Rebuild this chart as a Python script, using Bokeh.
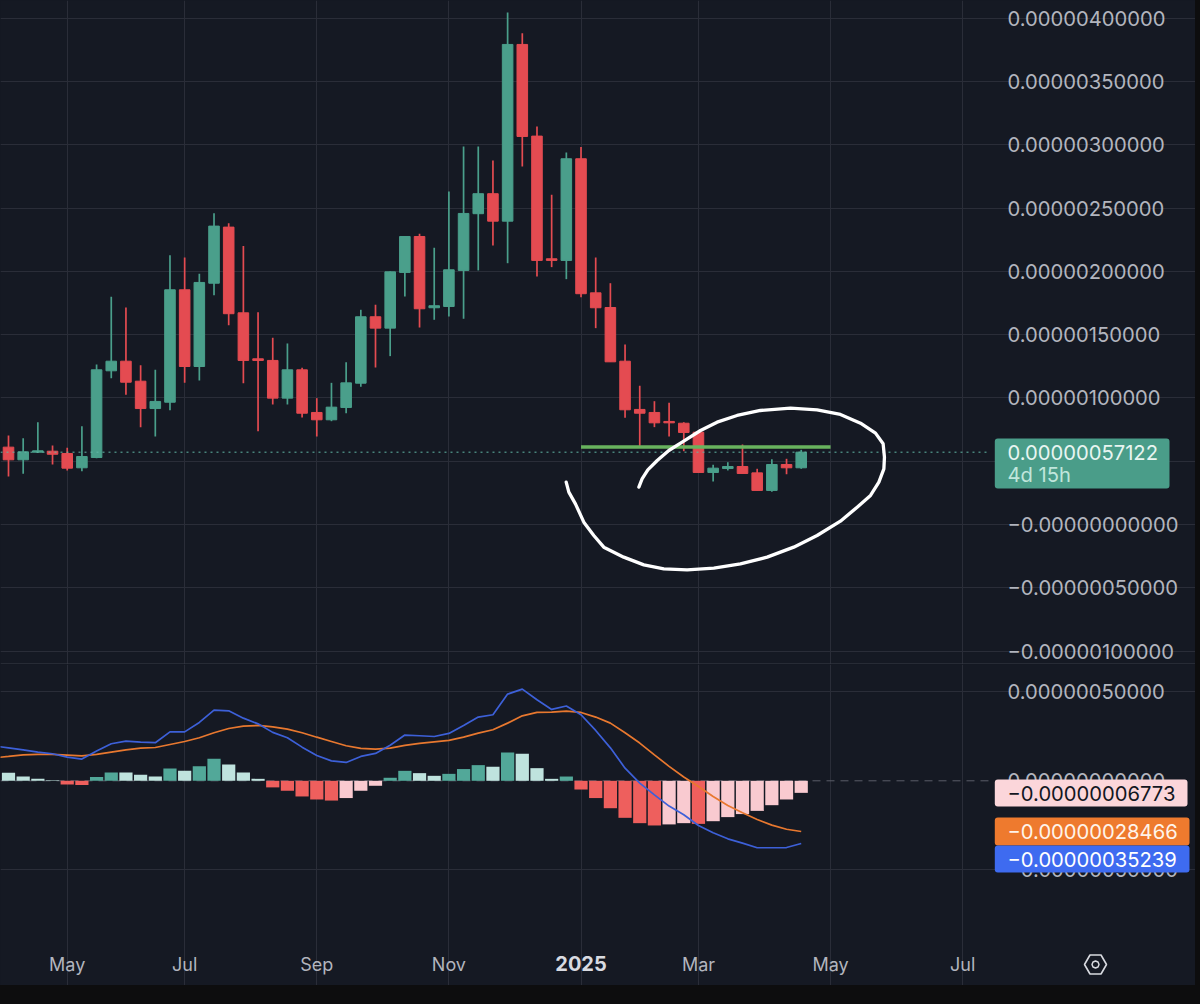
from bokeh.embed import file_html
from bokeh.layouts import column
from bokeh.models import (BoxAnnotation, FixedTicker, GlobalInlineStyleSheet, Label,
                          PolyAnnotation, Range1d)
from bokeh.plotting import figure
from bokeh.resources import INLINE

# All prices are in units of 0.00000001
opens = [61.1,51.1,57.1,57.9,56.1,44.8,52.9,121.4,129,113.2,91.6,96.6,185.4,124.8,190.6,234.9,167.2,130.9,129.6,99.8,
         122.2,88.5,82.7,92.4,111.6,164.1,155.1,199.1,227.5,171.2,172.2,200.7,245.5,261.3,239.6,379.2,306.8,209.9,208.6,288.9,
         183,171.4,129,90.9,88.5,81.4,80,72.9,41.1,44.2,45.8,40.8,26.9,47.4,44.8]
highs = [70.3,68.2,80.8,62.4,60.6,77.7,126.4,179.9,171.4,125.8,122.2,212.7,210.9,198.1,245.9,238,219.9,167.7,147.5,143,
         123.8,99.8,111.9,128.2,169.6,173.6,199.9,227.5,229.7,218.6,263.1,298.6,298.6,287.6,404.5,388.1,314.4,260.5,293.9,298.1,
         210.9,190.6,142.2,109.6,97.4,96.1,80.8,73.5,47.2,49.2,63.2,44,51.6,51.9,59]
lows = [37.9,40,56.6,47.4,42.7,42.1,52.4,115.6,102.5,76.9,69.5,90.3,111.9,113.8,181.1,157.4,111.6,73.7,94.8,94.8,
        84.5,69.5,81.6,87.9,108.8,124,133,180.1,155.6,161.7,164.3,162.5,200.7,220.4,206.4,282.8,195.9,203.3,193.8,179.6,
        155.1,128.5,84.3,60.6,76.9,69.5,57.9,41.1,34,42.7,40.3,26.9,25.8,39.7,44]
closes = [51.1,57.4,58.2,55.5,44.5,53.7,122.2,129,112.4,91.6,97.2,185.4,124.8,191.2,235.7,166.5,129.6,129.6,99.8,122.2,
          87.9,82.7,92.7,111.9,164.1,155.1,199.6,227.5,170.4,172.8,201.2,245.7,261.3,239.6,379.2,306.5,208.6,208.6,288.9,182.3,
          171.2,128.5,90.6,87.9,80.3,80.3,72.7,41.1,44.5,45.8,40.3,26.9,47.4,44.8,57.122]
hist = [4.5,2.4,1.1,0.3,-2.1,-2.4,2.1,4.7,4.7,3.4,2.4,6.9,5.6,8.2,12.4,9.2,4.7,1.1,-3.7,-5.6,
        -8.8,-10.5,-11.1,-9.7,-5.6,-2.8,1.7,5.6,4.3,2.8,3.9,6.6,8.8,7.9,15.9,15.2,7.1,1.1,2.4,-4.9,
        -9.7,-15.4,-20.8,-23.8,-25.1,-24.5,-23.8,-24.2,-22.7,-20.4,-18.7,-16.9,-13.7,-10.5,-6.773]
macd = [18.5,17.4,16.1,15.2,13.3,12.2,16.7,20.8,22.3,21.7,21.4,27.5,27.5,32.8,39.7,39.3,35.2,32,27.2,24.2,
        18.9,14.2,11.2,10.3,13.7,15.4,20,25.7,25.3,24.9,26.6,31.1,35.8,37.1,48.7,51.5,45.5,40.1,42,37.1,
        28.3,18.5,7.1,-1.3,-7.9,-14.2,-19.1,-25.1,-29.2,-32.6,-35,-37.6,-37.6,-37.5,-35.239]
signal = [13.7,14.6,14.8,14.8,14.4,14,14.8,16.1,17.4,18.4,18.7,20.4,22.1,24.2,27,29.4,30.7,31.1,30.3,29,
          27,24.5,22.1,19.7,18.2,17.8,18.4,19.9,21,21.9,22.7,24.5,26.8,28.7,32.4,36.5,38.4,38.6,39.1,38.4,
          35.8,32.4,27,21.2,14.6,8.1,2.1,-3.2,-8.8,-13.9,-18,-21.7,-24.9,-27.2,-28.466]
# The week before the first candle, which only the two lines still reach
macd_before = 19.6
signal_before = 12.9
resistance_level = 61.3
resistance_weeks = [39, 56]
last_price = 57.122

# Hand-drawn ellipse, in week index and price
stroke_weeks = [42.94,43.16,43.55,44.19,44.98,45.89,47.14,48.27,49.63,51.22,53.27,55.08,56.67,58.04,59.06,59.58,59.67,59.63,59.29,
                58.72,57.81,56.67,55.08,53.49,51.68,49.86,48.05,46.23,44.64,43.28,41.91,40.55,39.87,39.19,38.62,38.17,37.99]
stroke_prices = [29.49,36.08,43.19,50.56,58.46,65.04,74.26,80.84,86.11,90.06,91.9,90.59,86.9,80.05,72.16,63.73,53.19,43.98,33.45,
                 22.91,13.7,2.64,-8.69,-17.9,-25.8,-31.07,-34.49,-35.81,-35.02,-31.86,-25.8,-17.9,-8.69,1.84,16.33,25.54,33.45]

month_ticks = [4, 12, 21, 30, 39, 47, 56, 65]
month_labels = ["May", "Jul", "Sep", "Nov", "", "Mar", "May", "Jul"]
price_ticks = [400, 350, 300, 250, 200, 150, 100, 50, 0, -50, -100]
price_tick_labels = ["0.00000400000", "0.00000350000", "0.00000300000", "0.00000250000", "0.00000200000",
                     "0.00000150000", "0.00000100000", "0.00000050000", "\u22120.00000000000",
                     "\u22120.00000050000", "\u22120.00000100000"]
macd_ticks = [50, 0, -50]
macd_tick_labels = ["0.00000050000", "0.00000000000", "\u22120.00000050000"]

BG = "#151923"
GRID = "#2a2d38"
TEXT = "#b2b5be"
GREEN = "#4a9f8b"
RED = "#e44b51"
FONT = "Inter"
LABEL_SIZE = "20.2px"

weeks = list(range(len(closes)))

# Page pixel helpers for chart furniture only
def sx(px): return (px - 8) / 14.68
def py(px): return (524 - px) * 0.7899
def my(px): return (780.3 - px) * 0.5618

PANE_RIGHT = sx(992)

def base(height, y_range):
    f = figure(width=1195, height=height, x_range=Range1d(sx(0), sx(1195)), y_range=y_range,
               y_axis_location="right", output_backend="svg", toolbar_location=None,
               background_fill_color=BG, border_fill_color=BG, outline_line_color=None,
               min_border_left=0, min_border_top=0, min_border_right=0, min_border_bottom=0)
    f.xgrid.ticker = FixedTicker(ticks=month_ticks)
    f.xgrid.grid_line_color = GRID
    f.ygrid.grid_line_color = GRID
    f.ygrid.bounds = (sx(0), PANE_RIGHT)
    ax = f.yaxis[0]
    ax.fixed_location = PANE_RIGHT
    ax.axis_line_color = None
    ax.major_tick_line_color = None
    ax.minor_tick_line_color = None
    ax.major_tick_out = 0
    ax.major_tick_in = 0
    ax.major_label_standoff = 15
    ax.major_label_text_color = TEXT
    ax.major_label_text_font = FONT
    ax.major_label_text_font_size = LABEL_SIZE
    return f

# ---- price pane
p = base(664, Range1d(py(664), py(0)))
p.xaxis.visible = False
p.yaxis[0].ticker = FixedTicker(ticks=price_ticks)
p.yaxis[0].major_label_overrides = dict(zip(price_ticks, price_tick_labels))
p.ygrid.ticker = FixedTicker(ticks=price_ticks)

colors = [GREEN if c >= o else RED for o, c in zip(opens, closes)]
p.segment(weeks, lows, weeks, highs, line_color=colors, line_width=1.7)
p.vbar(weeks, width=0.72, bottom=[min(o, c) for o, c in zip(opens, closes)],
       top=[max(o, c) for o, c in zip(opens, closes)], fill_color=colors, line_color=colors, line_width=1)
p.line([sx(0), sx(990)], [last_price] * 2, line_color="#63b8a6", line_width=1, line_dash=[2, 4])
p.line(resistance_weeks, [resistance_level] * 2, line_color="#68b35e", line_width=3.5)
p.line(stroke_weeks, stroke_prices, line_color="#ffffff", line_width=3.3, line_join="round", line_cap="round")

p.add_layout(BoxAnnotation(left=sx(994.3), right=sx(1169), top=py(438), bottom=py(488), fill_color="#4a9d89",
                           fill_alpha=1, line_color=None, border_radius=3))
p.add_layout(Label(x=sx(1007), y=py(451.5), text=f"{last_price / 1e8:.11f}", text_color="#e8f5f1", text_font=FONT,
                   text_font_size=LABEL_SIZE, text_baseline="middle"))
p.add_layout(Label(x=sx(1007), y=py(474), text="4d 15h", text_color="#c0e6dc", text_font=FONT,
                   text_font_size=LABEL_SIZE, text_baseline="middle"))
p.add_layout(BoxAnnotation(left=sx(0), right=sx(1195), top=py(663), bottom=py(664), fill_color="#3a3e49",
                           fill_alpha=1, line_color=None))

# ---- MACD pane
m = base(321, Range1d(my(985), my(664)))
m.yaxis[0].ticker = FixedTicker(ticks=macd_ticks)
m.yaxis[0].major_label_overrides = dict(zip(macd_ticks, macd_tick_labels))
m.ygrid.ticker = FixedTicker(ticks=[50, -50])
m.xgrid.bounds = (my(938), my(664))
ax = m.xaxis[0]
ax.fixed_location = my(940)
ax.ticker = FixedTicker(ticks=month_ticks)
ax.major_label_overrides = dict(zip(month_ticks, month_labels))
ax.axis_line_color = None
ax.major_tick_line_color = None
ax.minor_tick_line_color = None
ax.major_tick_in = 0
ax.major_tick_out = 0
ax.major_label_standoff = 13
ax.major_label_text_color = TEXT
ax.major_label_text_font = FONT
ax.major_label_text_font_size = "18px"

hist_colors = []
for i, h in enumerate(hist):
    stronger = i > 0 and abs(h) > abs(hist[i - 1]) or (i > 0 and h * hist[i - 1] < 0)
    if h >= 0:
        hist_colors.append("#52a899" if stronger else "#bfe3de")
    else:
        hist_colors.append("#ee5f5d" if stronger else "#f9cad0")
m.line([sx(0), PANE_RIGHT], [0, 0], line_color="#5a5d68", line_width=1, line_dash=[8, 6])
m.vbar(weeks, width=0.9, bottom=0, top=hist, fill_color=hist_colors, line_color=None)
m.line([-1] + weeks, [signal_before] + signal, line_color="#e8782f", line_width=1.7)
m.line([-1] + weeks, [macd_before] + macd, line_color="#3d60d8", line_width=1.7)

for top_px, bottom_px, right_px, fill, txt, tcol in [
    (779, 806, 1187, "#fbd6da", hist[-1], "#131722"),
    (817, 845, 1189, "#ee7a2e", signal[-1], "#fff4ea"),
    (845, 872, 1189, "#3e6bf0", macd[-1], "#ffffff"),
]:
    m.add_layout(BoxAnnotation(left=sx(994.3), right=sx(right_px), top=my(top_px), bottom=my(bottom_px),
                               fill_color=fill, fill_alpha=1, line_color=None, border_radius=3))
    m.add_layout(Label(x=sx(1007), y=my((top_px + bottom_px) / 2), text=f"\u2212{abs(txt) / 1e8:.11f}", text_color=tcol,
                       text_font=FONT, text_font_size=LABEL_SIZE, text_baseline="middle"))

m.add_layout(Label(x=39, y=my(962.5), text="2025", text_color="#d8dae0", text_font=FONT, text_font_style="bold",
                   text_font_size="20px", text_align="center", text_baseline="middle"))

# settings icon
hex_x = [1084, 1089.5, 1100.5, 1106, 1100.5, 1089.5]
hex_y = [964, 954.5, 954.5, 964, 973.5, 973.5]
m.add_layout(PolyAnnotation(xs=[sx(v) for v in hex_x], ys=[my(v) for v in hex_y], fill_alpha=0,
                            line_color="#d8dae0", line_alpha=1, line_width=1.6))
ring_x = [1098.5, 1097.5, 1095, 1092.5, 1091.5, 1092.5, 1095, 1097.5]
ring_y = [964, 961.5, 960.5, 961.5, 964, 966.5, 967.5, 966.5]
m.add_layout(PolyAnnotation(xs=[sx(v) for v in ring_x], ys=[my(v) for v in ring_y], fill_alpha=0,
                            line_color="#d8dae0", line_alpha=1, line_width=1.5))

page_css = ("html{background:#0d0d0e linear-gradient(%s,%s) no-repeat;background-size:1195px 985px;}"
            "body{background:transparent;}" % (BG, BG))
layout = column(p, m, spacing=0, stylesheets=[GlobalInlineStyleSheet(css=page_css)])
open("out.html", "w").write(file_html(layout, INLINE))
